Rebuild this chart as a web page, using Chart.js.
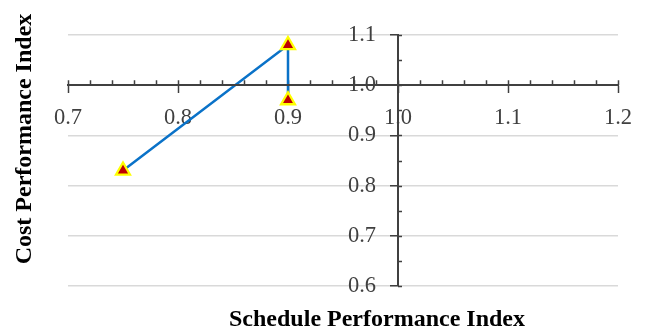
<!DOCTYPE html>
<html lang="en">
<head>
<meta charset="UTF-8">
<title>SPI vs CPI</title>
<script src="https://cdn.jsdelivr.net/npm/chart.js"></script>
<style>
  body { margin: 0; background: #fff; }
  #wrap { width: 645px; height: 334px; }
</style>
</head>
<body>
  <div id="wrap"><canvas id="chart"></canvas></div>

  <script>
    // values
    const spi = [0.75, 0.90, 0.90];   // Schedule Performance Index
    const cpi = [0.83, 1.08, 0.97];   // Cost Performance Index

    const xTickValues = [0.7, 0.8, 0.9, 1.0, 1.1, 1.2];
    const yTickValues = [0.6, 0.7, 0.8, 0.9, 1.0, 1.1];

    const xTitle = 'Schedule Performance Index';
    const yTitle = 'Cost Performance Index';

    const AXIS = '#404040';
    const serif = '"Liberation Serif", "Times New Roman", serif';

    // minor ticks + the upper/right halves of the major ticks (Excel style cross ticks)
    const minorTicks = {
      id: 'minorTicks',
      beforeDraw(chart) {
        // y labels of an axis placed at a value sit right on the axis line; push them left
        const items = chart.scales.y.getLabelItems(chart.chartArea);
        if (!items._moved) {
          items.forEach(it => { it.options.translation[0] -= 22; });
          items._moved = true;
        }
      },
      beforeDatasetsDraw(chart) {
        const { ctx, scales: { x, y } } = chart;
        const y0 = y.getPixelForValue(1.0);
        const x0 = x.getPixelForValue(1.0);
        ctx.save();
        ctx.strokeStyle = AXIS;
        ctx.lineWidth = 1.5;
        ctx.beginPath();
        for (let i = 0; i <= 25; i++) {
          const px = Math.round(x.getPixelForValue(0.7 + i * 0.02)) + 0.5;
          ctx.moveTo(px, y0);
          ctx.lineTo(px, y0 - 5);
        }
        for (let i = 0; i <= 10; i++) {
          const py = Math.round(y.getPixelForValue(0.6 + i * 0.05)) + 0.5;
          ctx.moveTo(x0, py);
          ctx.lineTo(x0 + 4, py);
        }
        ctx.stroke();
        ctx.restore();
      }
    };

    const axisTitles = {
      id: 'axisTitles',
      afterDraw(chart) {
        const { ctx } = chart;
        ctx.save();
        ctx.fillStyle = '#000';
        ctx.font = 'bold 24px ' + serif;
        ctx.textAlign = 'center';
        ctx.textBaseline = 'middle';
        ctx.fillText(xTitle, 377, 320);
        ctx.translate(25, 139);
        ctx.rotate(-Math.PI / 2);
        ctx.fillText(yTitle, 0, 0);
        ctx.restore();
      }
    };

    const ctx = document.getElementById('chart').getContext('2d');
    new Chart(ctx, {
      type: 'scatter',
      data: {
        datasets: [{
          data: spi.map((v, i) => ({ x: v, y: cpi[i] })),
          showLine: true,
          borderColor: '#0A72C8',
          borderWidth: 2.5,
          tension: 0,
          pointStyle: 'triangle',
          pointRadius: 8,
          pointHoverRadius: 8,
          pointBackgroundColor: '#C00000',
          pointBorderColor: '#FFFF00',
          pointBorderWidth: 2.3
        }]
      },
      options: {
        responsive: true,
        maintainAspectRatio: false,
        animation: false,
        layout: { padding: { left: 68, right: 27, top: 35, bottom: 48 } },
        plugins: {
          legend: { display: false },
          tooltip: { enabled: false }
        },
        scales: {
          x: {
            type: 'linear',
            position: { y: 1.0 },
            min: 0.7,
            max: 1.2,
            afterBuildTicks: s => { s.ticks = xTickValues.map(v => ({ value: v })); },
            grid: {
              drawOnChartArea: false,
              tickLength: 7,
              tickColor: AXIS,
              tickWidth: 1.5
            },
            border: { display: true, color: AXIS, width: 2, z: 1 },
            ticks: {
              padding: 12,
              color: AXIS,
              font: { family: serif, size: 22.5 },
              maxRotation: 0,
              callback: v => Number(v).toFixed(1)
            }
          },
          y: {
            type: 'linear',
            position: { x: 1.0 },
            min: 0.6,
            max: 1.1,
            afterBuildTicks: s => { s.ticks = yTickValues.map(v => ({ value: v })); },
            grid: {
              color: '#d9d9d9',
              lineWidth: 1.5,
              tickLength: 7,
              tickColor: AXIS,
              tickWidth: 1.5
            },
            border: { display: true, color: AXIS, width: 2, z: 1 },
            ticks: {
              color: AXIS,
              font: { family: serif, size: 22.5 },
              callback: v => Number(v).toFixed(1)
            }
          }
        }
      },
      plugins: [minorTicks, axisTitles]
    });
  </script>
</body>
</html>
